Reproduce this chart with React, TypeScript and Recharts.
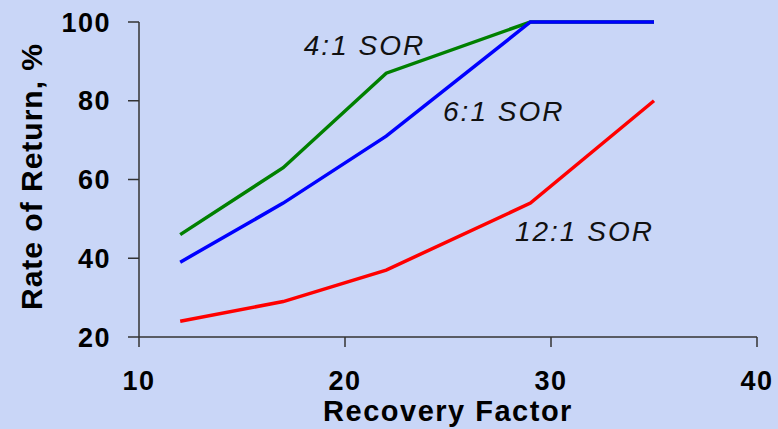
import { LineChart, Line, XAxis, YAxis, ReferenceDot } from 'recharts';

const recoveryFactor = [12, 17, 22, 29, 35];
const sor4 = [46, 63, 87, 100, 100];
const sor6 = [39, 54, 71, 100, 100];
const sor12 = [24, 29, 37, 54, 80];

const xTicks = [10, 20, 30, 40];
const yTicks = [20, 40, 60, 80, 100];

const chartData = recoveryFactor.map((rf, i) => ({
  rf,
  sor4: sor4[i],
  sor6: sor6[i],
  sor12: sor12[i],
}));

const FONT = '"Liberation Sans", Arial, Helvetica, sans-serif';

// italic curve captions, anchored in data space
const SeriesCaption = (text: string) => (props: any) => (
  <text
    x={props.cx}
    y={props.cy}
    fontFamily={FONT}
    fontStyle="italic"
    fontSize={28}
    letterSpacing={2}
    fill="#111"
  >
    {text}
  </text>
);

const YTitle = (props: any) => {
  const { viewBox } = props;
  const cx = viewBox.x + 31;
  const cy = viewBox.y + viewBox.height / 2 - 3;
  return (
    <text
      x={cx}
      y={cy}
      transform={`rotate(-90 ${cx} ${cy})`}
      textAnchor="middle"
      dominantBaseline="central"
      fontFamily={FONT}
      fontWeight="bold"
      fontSize={30}
      letterSpacing={1}
      fill="#000"
    >
      Rate of Return, %
    </text>
  );
};

const XTitle = (props: any) => {
  const { viewBox } = props;
  return (
    <text
      x={viewBox.x + viewBox.width / 2}
      y={viewBox.y + 84}
      textAnchor="middle"
      fontFamily={FONT}
      fontWeight="bold"
      fontSize={29}
      letterSpacing={1.5}
      fill="#000"
    >
      Recovery Factor
    </text>
  );
};

export default function App() {
  const tickStyle = {
    fontFamily: FONT,
    fontWeight: 'bold',
    fontSize: 27,
    letterSpacing: 1.5,
    fill: '#000',
  };

  return (
    <div style={{ position: 'absolute', left: 0, top: 0, width: 778, height: 429, background: '#C9D6F7' }}>
      <LineChart width={778} height={429} data={chartData} margin={{ top: 22, right: 21, bottom: 0, left: 0 }}>
        <XAxis
          dataKey="rf"
          type="number"
          domain={[10, 40]}
          ticks={xTicks}
          height={92}
          tickSize={10}
          tickMargin={24}
          tick={tickStyle}
          stroke="#333"
          strokeWidth={1.5}
          label={{ content: XTitle }}
        />
        <YAxis
          type="number"
          domain={[20, 100]}
          ticks={yTicks}
          width={139}
          tickSize={11}
          tickMargin={17}
          tick={tickStyle}
          stroke="#333"
          strokeWidth={1.5}
          label={{ content: YTitle }}
        />
        <Line dataKey="sor4" stroke="#008000" strokeWidth={3.5} dot={false} isAnimationActive={false} />
        <Line dataKey="sor12" stroke="#FF0000" strokeWidth={3.5} dot={false} isAnimationActive={false} />
        <Line dataKey="sor6" stroke="#0000FF" strokeWidth={3.5} dot={false} isAnimationActive={false} />
        <ReferenceDot x={18} y={91.6} r={0} shape={SeriesCaption('4:1 SOR')} />
        <ReferenceDot x={24.76} y={74.9} r={0} shape={SeriesCaption('6:1 SOR')} />
        <ReferenceDot x={28.25} y={44.4} r={0} shape={SeriesCaption('12:1 SOR')} />
      </LineChart>
    </div>
  );
}
